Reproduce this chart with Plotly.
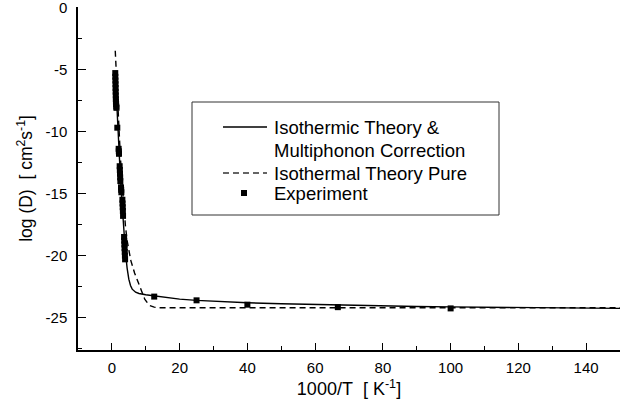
import plotly.graph_objects as go

# ---- data ----
solid_x = [1.0, 1.5, 2.0, 2.5, 3.0, 3.5, 4.0, 4.5, 5.0, 5.5, 6.0, 7.0, 8.0, 10, 12.5, 15, 20, 25, 30,
           40, 50, 60, 70, 80, 90, 100, 110, 120, 130, 140, 150]
solid_y = [-5.3, -8.3, -11.2, -13.6, -15.8, -17.9, -19.7, -21.0, -21.9, -22.4, -22.7, -22.95, -23.05,
           -23.15, -23.25, -23.35, -23.5, -23.6, -23.68, -23.8, -23.88, -23.95, -24.0, -24.05, -24.1,
           -24.13, -24.16, -24.19, -24.21, -24.23, -24.25]

dash_x = [1.0, 1.5, 2.0, 2.5, 3.0, 3.5, 4.0, 4.5, 5.0, 5.6, 6.7, 8.2, 9.7, 11, 12.5, 14, 20, 150]
dash_y = [-3.5, -6.8, -9.6, -12.0, -14.1, -16.0, -17.6, -18.8, -19.7, -20.4, -21.4, -22.5, -23.5,
          -24.0, -24.15, -24.2, -24.2, -24.2]

exp_x = [1.0, 1.02, 1.05, 1.08, 1.1, 1.12, 1.15, 1.18, 1.2, 1.25, 1.3, 1.35,
         1.6, 2.0, 2.05, 2.1, 2.3, 2.35, 2.4, 2.45, 2.5, 2.7, 2.75, 2.8,
         3.1, 3.15, 3.2, 3.25, 3.3, 3.6, 3.65, 3.7, 3.75, 3.8, 3.85, 3.9,
         12.5, 25, 40, 66.7, 100]
exp_y = [-5.3, -5.6, -5.9, -6.2, -6.5, -6.8, -7.1, -7.4, -7.6, -7.8, -8.0, -8.1,
         -9.7, -11.4, -11.6, -11.8, -12.8, -13.1, -13.4, -13.7, -14.0, -14.5, -14.7, -14.9,
         -15.5, -15.8, -16.1, -16.4, -16.8, -18.5, -18.8, -19.1, -19.4, -19.7, -20.0, -20.3,
         -23.3, -23.6, -23.95, -24.15, -24.25]

y_ticks = [0, -5, -10, -15, -20, -25]
y_ticktext = ["0", "-5", "-10", "-15", "-20", "-25"]
y_minor = [-2.5, -7.5, -12.5, -17.5, -22.5, -27.5]

legend_labels = ["Isothermic Theory &", "Multiphonon Correction", "Isothermal Theory Pure", "Experiment"]

# ---- figure ----
W, H = 626, 414
ML, MR, MT, MB = 78, 6, 7, 64
PW, PH = W - ML - MR, H - MT - MB
FONT = "Liberation Sans, Arial, sans-serif"


def px(x):
    return (x - ML) / PW


def py(y):
    return (H - MB - y) / PH


fig = go.Figure()
fig.add_trace(go.Scatter(x=dash_x, y=dash_y, mode="lines", line=dict(color="black", width=1.4, dash="6px,4px"),
                         showlegend=False, cliponaxis=False))
fig.add_trace(go.Scatter(x=solid_x, y=solid_y, mode="lines", line=dict(color="black", width=1.4),
                         showlegend=False))
fig.add_trace(go.Scatter(x=exp_x, y=exp_y, mode="markers",
                         marker=dict(symbol="square", size=6, color="black"), showlegend=False))

shapes = [
    dict(type="rect", xref="paper", yref="paper", x0=px(192), x1=px(499), y0=py(215), y1=py(102),
         line=dict(color="#333", width=1), fillcolor="white", layer="above"),
    dict(type="line", xref="paper", yref="paper", x0=px(223), x1=px(267), y0=py(127), y1=py(127),
         line=dict(color="black", width=1.4)),
    dict(type="line", xref="paper", yref="paper", x0=px(223), x1=px(267), y0=py(173), y1=py(173),
         line=dict(color="#333", width=1.4, dash="6px,4px")),
    dict(type="rect", xref="paper", yref="paper", x0=px(241), x1=px(247), y0=py(196), y1=py(190),
         line=dict(width=0), fillcolor="black"),
]
annotations = []
for lab, yy in zip(legend_labels, [127, 150, 173, 193]):
    annotations.append(dict(text=lab, xref="paper", yref="paper", x=px(272), y=py(yy), xanchor="left",
                            yanchor="middle", showarrow=False, font=dict(family=FONT, size=18.5, color="black")))

fig.update_layout(
    width=W, height=H,
    margin=dict(l=ML, r=MR, t=MT, b=MB, autoexpand=False),
    paper_bgcolor="white", plot_bgcolor="white",
    shapes=shapes, annotations=annotations,
    font=dict(family=FONT, color="black"),
    showlegend=False,
    xaxis=dict(range=[-10, 150], tick0=0, dtick=20, ticks="inside", ticklen=7, tickwidth=1.3,
               tickcolor="black", showline=True, linecolor="black", linewidth=1.5, showgrid=False,
               zeroline=False, tickfont=dict(size=15, family=FONT), ticklabelstandoff=3, automargin=False,
               ticklabeloverflow="allow",
               minor=dict(tick0=0, dtick=10, ticks="inside", ticklen=4, tickcolor="black", tickwidth=1.2),
               title=dict(text="1000/T\u00a0\u00a0[\u00a0K<sup>-1</sup>]", font=dict(size=18, family=FONT),
                          standoff=8)),
    yaxis=dict(range=[-27.6, 0.02], tickmode="array", tickvals=y_ticks, ticktext=y_ticktext, ticks="inside",
               ticklen=8, tickwidth=1.3, tickcolor="black", showline=True, linecolor="black", linewidth=1.5,
               showgrid=False, zeroline=False, tickfont=dict(size=15, family=FONT), ticklabelstandoff=6,
               automargin=False, ticklabeloverflow="allow",
               minor=dict(tickvals=y_minor, ticks="inside", ticklen=4, tickcolor="black", tickwidth=1.2),
               title=dict(text="log\u00a0(D)\u00a0\u00a0[\u00a0cm<sup>2</sup>s<sup>-1</sup>]",
                          font=dict(size=17.5, family=FONT), standoff=8)),
)

fig.write_html("out.html", config={"displayModeBar": False},
               post_script="document.body.style.margin='0';document.body.style.overflow='hidden';")
